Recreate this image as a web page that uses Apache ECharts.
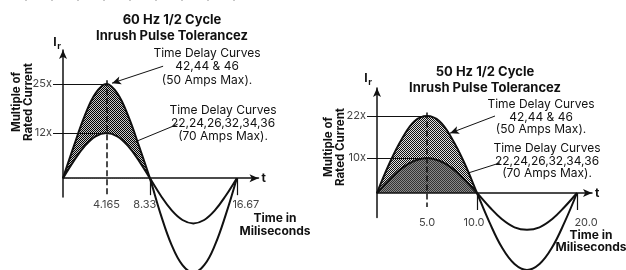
<!DOCTYPE html>
<html>
<head>
<meta charset="utf-8">
<script src="https://cdn.jsdelivr.net/npm/echarts@6/dist/echarts.min.js"></script>
<style>
  html, body { margin: 0; padding: 0; background: #fff; }
  #chart { width: 626px; height: 270px; }
</style>
</head>
<body>
<div id="chart"></div>
<script>
// ---- 60 Hz (left) ----
const leftTime = [0, 1.04, 2.08, 3.12, 4.165, 5.21, 6.25, 7.29, 8.33, 9.37, 10.41, 11.46, 12.5, 13.54, 14.58, 15.62, 16.67];
const leftHigh = [0, 8.5, 16.5, 22.5, 25, 22.5, 16.5, 8.5, 0, -9.6, -17.7, -23.1, -25, -23.1, -17.7, -9.6, 0];
const leftLow = [0, 4.6, 8.5, 11.1, 12, 11.1, 8.5, 4.6, 0, -4.6, -8.5, -11.1, -12, -11.1, -8.5, -4.6, 0];
const leftPeakTime = 4.165;
const leftPeaks = [12, 25];
const leftTickValues = [4.165, 8.33, 16.67];
const leftTickLabels = ['4.165', '8.33', '16.67'];

// ---- 50 Hz (right) ----
const rightTime = [0, 1.25, 2.5, 3.75, 5, 6.25, 7.5, 8.75, 10, 11.25, 12.5, 13.75, 15, 16.25, 17.5, 18.75, 20];
const rightHigh = [0, 8.5, 15.5, 20.5, 22, 20.5, 15.5, 8.5, 0, -8.4, -15.6, -20.3, -22, -20.3, -15.6, -8.4, 0];
const rightLow = [0, 3.8, 7.1, 9.2, 10, 9.2, 7.1, 3.8, 0, -4, -7.5, -9.8, -10.5, -9.8, -7.5, -4, 0];
const rightPeakTime = 5;
const rightPeaks = [10, 22];
const rightTickValues = [5, 10, 20];
const rightTickLabels = ['5.0', '10.0', '20.0'];

const FONT = 'Inter, "Noto Sans", sans-serif';
const INK = '#111';

function checker(dark, light) {
  const c = document.createElement('canvas');
  c.width = 2; c.height = 2;
  const g = c.getContext('2d');
  g.fillStyle = light; g.fillRect(0, 0, 2, 2);
  g.fillStyle = dark; g.fillRect(0, 0, 1, 1); g.fillRect(1, 1, 1, 1);
  return { image: c, repeat: 'repeat' };
}

const pairs = (ts, vs) => ts.map((t, i) => [t, vs[i]]);
const posLobe = (ts, vs, end) => pairs(ts, vs).filter(p => p[0] <= end + 1e-6);

function xLabelFormatter(values, labels, shift) {
  return function (v) {
    const i = values.findIndex(x => Math.abs(x - v) < 1e-6);
    const txt = i >= 0 ? labels[i] : '';
    return '{' + (shift[txt] || 'c') + '|' + txt + '}';
  };
}

const labelStyle = { fontSize: 11, color: '#444', fontFamily: FONT };

function xAxisFor(idx, max, values, labels, ticks, shift, rich, margin) {
  return {
    gridIndex: idx, type: 'value', min: 0, max: max,
    z: 10,
    splitLine: { show: false },
    axisLine: { onZero: true, symbol: ['none', 'arrow'], symbolSize: [6, 9], lineStyle: { color: INK, width: 1.5 } },
    axisTick: { show: true, customValues: ticks, length: 17, lineStyle: { color: INK, width: 1.2 } },
    axisLabel: Object.assign({ customValues: values, margin: margin, formatter: xLabelFormatter(values, labels, shift), rich: rich }, labelStyle),
    name: 't', nameLocation: 'end', nameGap: 3,
    nameTextStyle: { fontSize: 12, fontWeight: 'bold', color: INK, fontFamily: FONT }
  };
}

function yAxisFor(idx, min, max, peaks) {
  return {
    gridIndex: idx, type: 'value', min: min, max: max,
    z: 10,
    splitLine: { show: false },
    axisLine: { onZero: true, symbol: ['none', 'arrow'], symbolSize: [6, 9], lineStyle: { color: INK, width: 1.5 } },
    axisTick: { show: true, customValues: peaks, length: 10, lineStyle: { color: INK, width: 1 } },
    axisLabel: Object.assign({ customValues: peaks, margin: 11, formatter: v => v + 'x' }, labelStyle)
  };
}

function areaSeries(idx, data, fill) {
  return {
    type: 'line', xAxisIndex: idx, yAxisIndex: idx, data: data,
    smooth: 0.4, showSymbol: false, silent: true, z: 2,
    lineStyle: { width: 0 }, areaStyle: { color: fill, opacity: 1 }
  };
}

function curveSeries(idx, data, marks) {
  const s = {
    type: 'line', xAxisIndex: idx, yAxisIndex: idx, data: data,
    smooth: 0.4, showSymbol: false, silent: true, clip: false, z: 3,
    lineStyle: { color: INK, width: 2 }
  };
  if (marks) {
    s.markLine = {
      silent: true, symbol: 'none', label: { show: false }, animation: false,
      lineStyle: { color: INK, width: 1, type: 'solid' },
      data: marks
    };
  }
  return s;
}

function markSet(peakT, peaks, dashBottom, leaders) {
  const m = peaks.map(p => [{ coord: [0, p] }, { coord: [peakT, p] }]);
  m.push([{ coord: [peakT, peaks[peaks.length - 1] + 1], lineStyle: { type: [6, 3], width: 1.5, color: INK } },
          { coord: [peakT, dashBottom] }]);
  leaders.forEach((l, i) => {
    m.push([{ coord: l[0] }, { coord: l[1], symbol: i === 0 ? 'arrow' : 'none', symbolSize: [6, 9] }]);
  });
  return m;
}

const leftShift = { '8.33': 'l', '16.67': 'r' };
const leftRich = {
  c: { fontSize: 11, color: '#444', fontFamily: FONT },
  l: { fontSize: 11, color: '#444', fontFamily: FONT, padding: [0, 10, 0, 0] },
  r: { fontSize: 11, color: '#444', fontFamily: FONT, padding: [0, 0, 0, 18] }
};
const rightShift = { '10.0': 'l', '20.0': 'r' };
const rightRich = {
  c: { fontSize: 11, color: '#444', fontFamily: FONT },
  l: { fontSize: 11, color: '#444', fontFamily: FONT, padding: [0, 6, 0, 0] },
  r: { fontSize: 11, color: '#444', fontFamily: FONT, padding: [0, 0, 0, 18] }
};

const text = (x, y, t, opt) => ({
  type: 'text', x: x, y: y, silent: true, z: 20,
  rotation: (opt && opt.rotation) || 0,
  style: Object.assign({ text: t, fill: INK, font: 'normal 12px ' + FONT, align: 'center', verticalAlign: 'middle' }, opt && opt.style)
});

const chart = echarts.init(document.getElementById('chart'), null, { renderer: 'canvas' });
chart.setOption({
  animation: false,
  backgroundColor: '#fff',
  grid: [
    { left: 63, top: 50, width: 195.5, height: 147, outerBoundsMode: 'none' },
    { left: 377, top: 88, width: 215, height: 129.5, outerBoundsMode: 'none' }
  ],
  xAxis: [
    xAxisFor(0, 18.75, leftTickValues, leftTickLabels, [8.33, 16.67], leftShift, leftRich, 2),
    xAxisFor(1, 21.5, rightTickValues, rightTickLabels, [10, 20], rightShift, rightRich, 0)
  ],
  yAxis: [
    yAxisFor(0, -5, 34, leftPeaks),
    yAxisFor(1, -7, 30, rightPeaks)
  ],
  series: [
    areaSeries(0, posLobe(leftTime, leftHigh, 8.33), checker('#000', '#c8c8c8')),
    areaSeries(0, posLobe(leftTime, leftLow, 8.33), '#fff'),
    curveSeries(0, pairs(leftTime, leftHigh),
      markSet(leftPeakTime, leftPeaks, -5, [[[9.6, 29.7], [4.7, 25.2]], [[11.0, 14.3], [6.8, 9.5]]])),
    curveSeries(0, pairs(leftTime, leftLow)),

    areaSeries(1, posLobe(rightTime, rightHigh, 10), checker('#111', '#e0e0e0')),
    areaSeries(1, posLobe(rightTime, rightLow, 10), checker('#333', '#8a8a8a')),
    curveSeries(1, pairs(rightTime, rightHigh),
      markSet(rightPeakTime, rightPeaks, -4, [[[11.8, 22], [7.3, 17.1]], [[12.3, 8.6], [9.1, 5.7]]])),
    curveSeries(1, pairs(rightTime, rightLow))
  ],
  graphic: [
    { type: 'line', silent: true, shape: { x1: 25, y1: 0, x2: 236, y2: 0 }, style: { stroke: '#c8c8c8', lineWidth: 2, lineDash: [2, 24] } },

    // left chart texts
    text(172, 28, '60 Hz 1/2 Cycle\nInrush Pulse Tolerancez', { style: { font: 'bold 13px ' + FONT, lineHeight: 16 } }),
    text(55, 42, 'I', { style: { font: 'bold 12px ' + FONT } }),
    text(59, 46, 'r', { style: { font: 'bold 9px ' + FONT } }),
    text(23, 102, 'Multiple of\nRated Current', { rotation: Math.PI / 2, style: { font: 'bold 11.5px ' + FONT, lineHeight: 12 } }),
    text(207, 66.5, 'Time Delay Curves\n42,44 & 46\n(50 Amps Max).', { style: { lineHeight: 13.5 } }),
    text(223, 123, 'Time Delay Curves\n22,24,26,32,34,36\n(70 Amps Max).', { style: { lineHeight: 13 } }),
    text(275, 224.5, 'Time in\nMiliseconds', { style: { font: 'bold 12px ' + FONT, lineHeight: 13 } }),

    // right chart texts
    text(485, 80, '50 Hz 1/2 Cycle\nInrush Pulse Tolerancez', { style: { font: 'bold 13px ' + FONT, lineHeight: 16 } }),
    text(366, 78, 'I', { style: { font: 'bold 12px ' + FONT } }),
    text(370, 82, 'r', { style: { font: 'bold 9px ' + FONT } }),
    text(335, 147, 'Multiple of\nRated Current', { rotation: Math.PI / 2, style: { font: 'bold 11.5px ' + FONT, lineHeight: 12 } }),
    text(541, 117, 'Time Delay Curves\n42,44 & 46\n(50 Amps Max).', { style: { lineHeight: 12.5 } }),
    text(547, 161, 'Time Delay Curves\n22,24,26,32,34,36\n(70 Amps Max).', { style: { lineHeight: 12.5 } }),
    text(591, 241, 'Time in\nMiliseconds', { style: { font: 'bold 12px ' + FONT, lineHeight: 12 } })
  ]
});
window.onresize = function () { chart.resize(); };
</script>
</body>
</html>
